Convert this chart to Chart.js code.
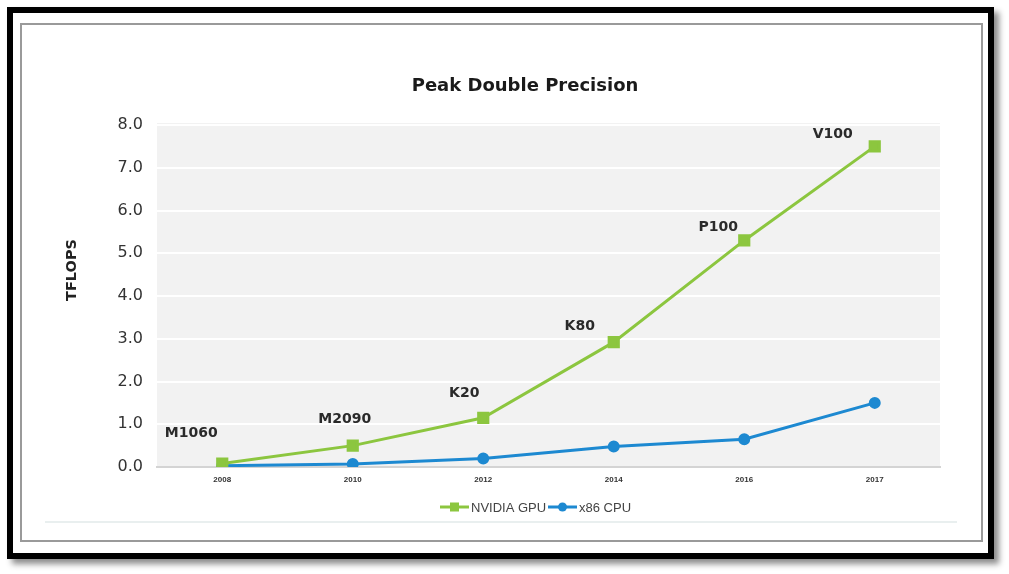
<!DOCTYPE html>
<html><head><meta charset="utf-8">
<script src="https://cdn.jsdelivr.net/npm/chart.js@4/dist/chart.umd.min.js"></script>
<style>
html,body{margin:0;padding:0;background:#fff;width:1009px;height:574px;overflow:hidden;}
#frame{position:absolute;left:7px;top:7px;width:975px;height:540px;border:6px solid #000;box-shadow:5px 5px 6px rgba(0,0,0,0.45);background:#fff;}
#panel{position:absolute;left:20px;top:23px;width:959px;height:515px;border:2px solid #9a9a9a;}
#c{position:absolute;left:0;top:0;}
</style></head><body>
<div id="frame"></div><div id="panel"></div>
<canvas id="c" width="1009" height="574"></canvas>
<script>
const categories = ['2008', '2010', '2012', '2014', '2016', '2017'];
const gpuValues = [0.08, 0.5, 1.15, 2.92, 5.3, 7.5];
const cpuValues = [0.03, 0.07, 0.2, 0.48, 0.65, 1.5];
const gpuNames = ['M1060', 'M2090', 'K20', 'K80', 'P100', 'V100'];
const seriesNames = ['NVIDIA GPU', 'x86 CPU'];
const chartTitle = 'Peak Double Precision';
const yAxisTitle = 'TFLOPS';

const GREEN = '#8cc63f';
const BLUE = '#1d89d1';
// label offsets (style) relative to each GPU point
const labelOffsets = [[-31, -30], [-8, -26], [-19, -24], [-34, -16], [-26, -13], [-42, -12]];

const decor = {
  id: 'decor',
  beforeDraw(chart) {
    const a = chart.chartArea, ctx = chart.ctx;
    ctx.save();
    ctx.fillStyle = '#f2f2f2';
    ctx.fillRect(a.left, a.top - 2, a.right - a.left, a.bottom - a.top + 2);
    ctx.restore();
  },
  afterDatasetsDraw(chart) {
    const ctx = chart.ctx;
    const meta = chart.getDatasetMeta(0);
    ctx.save();
    ctx.font = 'bold 14px "DejaVu Sans"';
    ctx.fillStyle = '#2a2a2a';
    ctx.textAlign = 'center';
    ctx.textBaseline = 'middle';
    meta.data.forEach((p, i) => {
      const o = labelOffsets[i];
      ctx.fillText(gpuNames[i], p.x + o[0], p.y + o[1]);
    });
    ctx.restore();
  },
  afterDraw(chart) {
    const ctx = chart.ctx;
    ctx.save();
    // title
    ctx.font = 'bold 18px "DejaVu Sans"';
    ctx.fillStyle = '#1a1a1a';
    ctx.textAlign = 'center';
    ctx.textBaseline = 'middle';
    ctx.fillText(chartTitle, 525, 86);
    // y axis title
    ctx.save();
    ctx.translate(72, 270);
    ctx.rotate(-Math.PI / 2);
    ctx.font = 'bold 14.5px "DejaVu Sans"';
    ctx.fillStyle = '#222';
    ctx.fillText(yAxisTitle, 0, 0);
    ctx.restore();
    // legend
    const ds = chart.data.datasets;
    const items = [{x: 440, d: ds[0]}, {x: 548, d: ds[1]}];
    ctx.font = '13px "Liberation Sans"';
    ctx.textAlign = 'left';
    items.forEach(it => {
      const y = 507;
      ctx.strokeStyle = it.d.borderColor;
      ctx.lineWidth = 3;
      ctx.beginPath(); ctx.moveTo(it.x, y); ctx.lineTo(it.x + 29, y); ctx.stroke();
      ctx.fillStyle = it.d.borderColor;
      if (it.d.pointStyle === 'rect') ctx.fillRect(it.x + 10, y - 4.5, 9, 9);
      else { ctx.beginPath(); ctx.arc(it.x + 14.5, y, 4.5, 0, Math.PI * 2); ctx.fill(); }
      ctx.fillStyle = '#444';
      ctx.fillText(it.d.label, it.x + 31, y + 1);
    });
    // separator
    ctx.strokeStyle = '#e2eaea';
    ctx.lineWidth = 1.5;
    ctx.beginPath(); ctx.moveTo(45, 522); ctx.lineTo(957, 522); ctx.stroke();
    ctx.restore();
  }
};

new Chart(document.getElementById('c'), {
  type: 'line',
  data: {
    labels: categories,
    datasets: [
      { label: seriesNames[0], data: gpuValues, borderColor: GREEN, backgroundColor: GREEN,
        borderWidth: 3, pointStyle: 'rect', pointRadius: 6.5, pointHoverRadius: 6.5, tension: 0 },
      { label: seriesNames[1], data: cpuValues, borderColor: BLUE, backgroundColor: BLUE,
        borderWidth: 3, pointStyle: 'circle', pointRadius: 4.5, pointHoverRadius: 4.5, tension: 0 }
    ]
  },
  options: {
    responsive: false,
    devicePixelRatio: 1,
    animation: false,
    layout: { padding: { left: 0, right: 69, top: 125, bottom: 77 } },
    plugins: { legend: { display: false }, title: { display: false }, tooltip: { enabled: false } },
    scales: {
      x: {
        offset: true,
        grid: { display: false, drawTicks: false },
        border: { display: true, color: '#d4d4d4', width: 2 },
        ticks: { font: { family: '"Liberation Sans Narrow", "Liberation Sans"', size: 8, weight: 'bold' }, color: '#333', padding: 8 },
        afterFit(s) { s.height = 30; }
      },
      y: {
        min: 0, max: 8,
        grid: { color: ctx => ctx.tick && ctx.tick.value === 0 ? '#d4d4d4' : '#ffffff', lineWidth: 2, drawTicks: false },
        border: { display: false },
        ticks: { stepSize: 1, padding: 14, color: '#333', font: { family: '"DejaVu Sans"', size: 16 },
          callback: v => Number(v).toFixed(1) },
        afterFit(s) { s.width = 157; }
      }
    }
  },
  plugins: [decor]
});
</script>
</body></html>
